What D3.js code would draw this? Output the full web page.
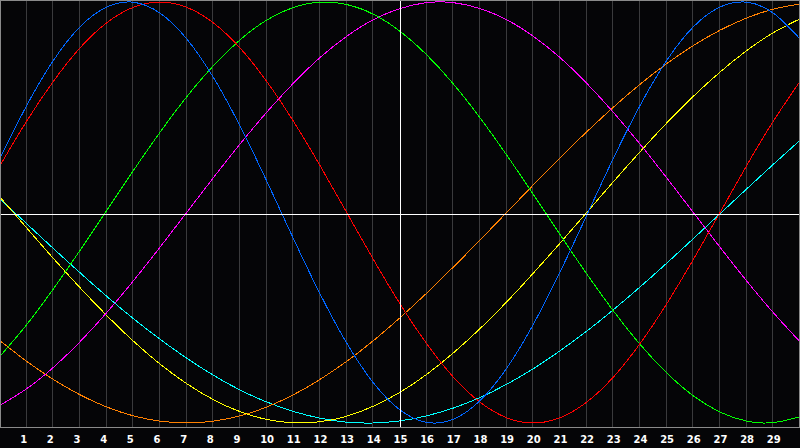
<!DOCTYPE html>
<html>
<head>
<meta charset="utf-8">
<script src="https://cdn.jsdelivr.net/npm/d3@7/dist/d3.min.js"></script>
<style>
  html, body { margin: 0; padding: 0; background: #050507; }
  svg { display: block; }
</style>
</head>
<body>
<script>
// days shown on the chart, 0 = left edge
var days = d3.range(0, 31);
var dayLabels = d3.range(1, 30);

// cycle values in percent, one per day
var physical     = [25.7, 50.8, 72.2, 88.2, 97.6, 99.9, 94.7, 82.5, 64.2, 41.1, 15.0, -12.3, -38.6, -62.0, -80.9, -93.8, -99.7, -98.2, -89.4, -74.0, -53.1, -28.3, -1.4, 25.7, 50.8, 72.2, 88.2, 97.6, 99.9, 94.7, 82.5];
var emotional    = [22.3, 43.4, 62.3, 78.2, 90.1, 97.5, 100, 97.5, 90.1, 78.2, 62.3, 43.4, 22.3, 0, -22.3, -43.4, -62.3, -78.2, -90.1, -97.5, -100, -97.5, -90.1, -78.2, -62.3, -43.4, -22.3, 0, 22.3, 43.4, 62.3];
var intellectual = [-68.3, -53.3, -36.3, -18.0, 1.0, 19.9, 38.1, 54.9, 69.7, 82.0, 91.4, 97.4, 99.9, 98.8, 94.2, 86.1, 74.9, 61.1, 45.0, 27.3, 8.6, -10.5, -29.1, -46.7, -62.6, -76.2, -87.1, -94.8, -99.1, -99.8, -97.0];
var intuitive    = [-91.6, -83.7, -73.6, -61.4, -47.6, -32.5, -16.5, 0, 16.5, 32.5, 47.6, 61.4, 73.6, 83.7, 91.6, 96.9, 99.7, 99.7, 96.9, 91.6, 83.7, 73.6, 61.4, 47.6, 32.5, 16.5, 0, -16.5, -32.5, -47.6, -61.4];
var aesthetic    = [7.3, -7.3, -21.8, -35.7, -48.9, -61.1, -72.0, -81.3, -88.9, -94.6, -98.3, -99.9, -99.4, -96.8, -92.0, -85.4, -76.9, -66.7, -55.2, -42.5, -28.8, -14.6, 0, 14.6, 28.8, 42.5, 55.2, 66.7, 76.9, 85.4, 92.0];
var awareness    = [-60.9, -70.7, -79.3, -86.6, -92.4, -96.6, -99.1, -100, -99.1, -96.6, -92.4, -86.6, -79.3, -70.7, -60.9, -50.0, -38.3, -25.9, -13.1, 0, 13.1, 25.9, 38.3, 50.0, 60.9, 70.7, 79.3, 86.6, 92.4, 96.6, 99.1];
var spiritual    = [6.5, -5.3, -17.1, -28.6, -39.8, -50.4, -60.2, -69.2, -77.3, -84.3, -90.0, -94.5, -97.7, -99.6, -100.0, -99.0, -96.6, -92.9, -87.9, -81.6, -74.2, -65.7, -56.4, -46.2, -35.4, -24.1, -12.4, -0.6, 11.2, 22.9, 34.3];

var today = 15;

var series = [
  {name: "spiritual", values: spiritual, color: "#00ffff"},
  {name: "awareness", values: awareness, color: "#ff8000"},
  {name: "aesthetic", values: aesthetic, color: "#ffff00"},
  {name: "intuitive", values: intuitive, color: "#ff00ff"},
  {name: "intellectual", values: intellectual, color: "#00ff00"},
  {name: "emotional", values: emotional, color: "#ff0000"},
  {name: "physical", values: physical, color: "#0066ff"}
];

var width = 800,
    height = 448,
    plotH = 428;

var x = d3.scaleLinear().domain([0, 30]).range([0, width]);
var y = d3.scaleLinear().domain([-100, 100]).range([423, 2]);

var svg = d3.select("body").append("svg")
    .attr("width", width)
    .attr("height", height);

svg.append("rect")
    .attr("width", width)
    .attr("height", height)
    .attr("fill", "#050507");

// day grid
svg.selectAll(".grid")
    .data(dayLabels.filter(function(d) { return d != today; }))
  .enter().append("line")
    .attr("class", "grid")
    .attr("x1", function(d) { return Math.round(x(d)) - 0.5; })
    .attr("x2", function(d) { return Math.round(x(d)) - 0.5; })
    .attr("y1", 0)
    .attr("y2", plotH)
    .attr("stroke", "#3a3a3c")
    .attr("stroke-width", 1)
    .attr("shape-rendering", "crispEdges");

var line = d3.line()
    .x(function(d, i) { return x(days[i]); })
    .y(function(d) { return y(d); })
    .curve(d3.curveNatural);

svg.selectAll(".cycle")
    .data(series)
  .enter().append("path")
    .attr("class", "cycle")
    .attr("d", function(s) { return line(s.values); })
    .attr("fill", "none")
    .attr("stroke", function(s) { return s.color; })
    .attr("stroke-width", 1)
    .attr("shape-rendering", "crispEdges");

// zero line and today marker
svg.append("line")
    .attr("x1", 0).attr("x2", width)
    .attr("y1", 214.5).attr("y2", 214.5)
    .attr("stroke", "#ffffff")
    .attr("shape-rendering", "crispEdges");

svg.append("line")
    .attr("x1", x(today) + 0.5).attr("x2", x(today) + 0.5)
    .attr("y1", 0).attr("y2", plotH)
    .attr("stroke", "#ffffff")
    .attr("shape-rendering", "crispEdges");

// frame
svg.append("rect")
    .attr("x", 0.5).attr("y", 0.5)
    .attr("width", width - 1)
    .attr("height", plotH - 1)
    .attr("fill", "none")
    .attr("stroke", "#8a8a8a")
    .attr("shape-rendering", "crispEdges");

svg.selectAll(".daylabel")
    .data(dayLabels)
  .enter().append("text")
    .attr("class", "daylabel")
    .attr("x", function(d) { return x(d) - 6.5; })
    .attr("y", 443)
    .attr("fill", "#ffffff")
    .attr("font-family", "DejaVu Sans, sans-serif")
    .attr("font-weight", "bold")
    .attr("font-size", "10px")
    .style("text-anchor", "start")
    .text(function(d) { return d; });
</script>
</body>
</html>
